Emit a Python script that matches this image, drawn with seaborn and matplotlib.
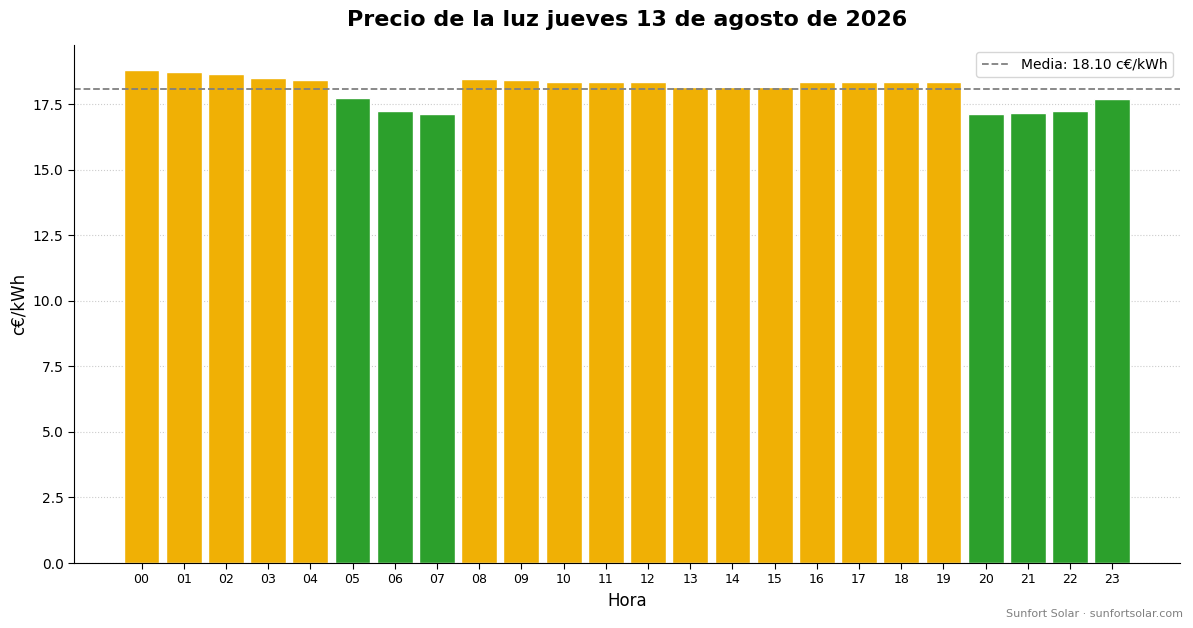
import numpy as np
import pandas as pd
import seaborn as sns
import matplotlib.pyplot as plt

# Datos
horas = [f"{h:02d}" for h in range(24)]
precios = [18.82, 18.74, 18.66, 18.51, 18.43, 17.74, 17.24, 17.13,
           18.47, 18.43, 18.36, 18.36, 18.36, 18.16, 18.16, 18.16,
           18.36, 18.36, 18.36, 18.36, 17.13, 17.17, 17.24, 17.70]
media = 18.10

df = pd.DataFrame({"Hora": horas, "Precio": precios})
df["tipo"] = np.where(df["Precio"] < media, "barato", "caro")

sns.set_style("white")
plt.rcParams['font.family'] = ['DejaVu Sans']
plt.rcParams['text.color'] = 'black'
plt.rcParams['axes.labelcolor'] = 'black'
plt.rcParams['xtick.color'] = 'black'
plt.rcParams['ytick.color'] = 'black'
plt.rcParams['axes.edgecolor'] = 'black'

fig = plt.figure(figsize=(11.93, 6.28), dpi=100)
ax = fig.add_axes([0.062, 0.1035, 0.927, 0.8245])

sns.barplot(data=df, x="Hora", y="Precio", hue="tipo",
            palette={"barato": "#2ca02c", "caro": "#f0b005"},
            dodge=False, width=0.85, edgecolor="white", linewidth=1,
            saturation=1, legend=False, ax=ax)

ax.axhline(media, color="grey", linestyle="--", linewidth=1.3,
           label=f"Media: {media:.2f} c€/kWh")
ax.legend(loc="upper right", fontsize=10)

ax.set_xlim(-1.6, 24.6)
ax.set_ylim(0, max(precios) * 1.05)
ax.set_yticks(np.arange(0, 17.6, 2.5))
ax.yaxis.grid(True, linestyle=":", color="#cccccc", linewidth=0.8)
ax.set_axisbelow(True)
ax.tick_params(axis="x", labelsize=9, length=4, bottom=True)
ax.tick_params(axis="y", labelsize=10, length=4, left=True)
sns.despine(ax=ax)

ax.set_xlabel("Hora", fontsize=12)
ax.set_ylabel("c€/kWh", fontsize=12)
ax.set_title("Precio de la luz jueves 13 de agosto de 2026",
             fontsize=16, fontweight="bold", pad=14)

fig.text(0.992, 0.015, "Sunfort Solar · sunfortsolar.com", ha="right",
         va="bottom", fontsize=8, color="grey")

fig.savefig("out.png", dpi=100)
